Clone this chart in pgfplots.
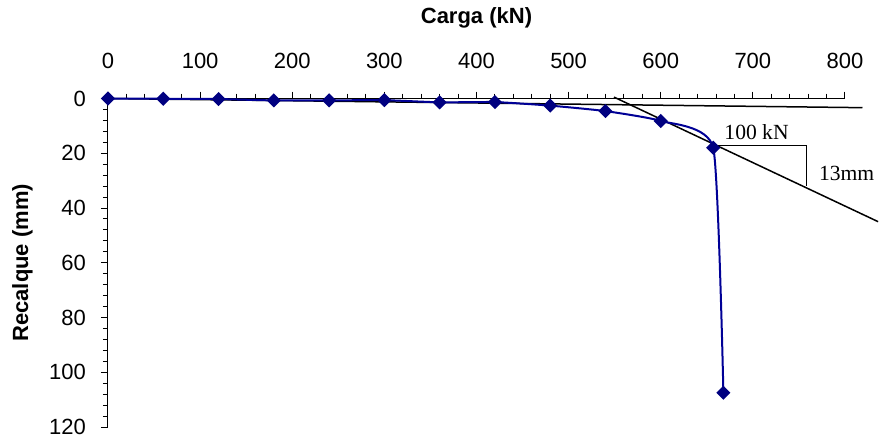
\documentclass[border=0pt]{standalone}
\usepackage{fontspec}
\setmainfont{Liberation Sans}
\newfontfamily\timesfont{Liberation Serif}
\usepackage{pgfplots}
\pgfplotsset{compat=1.18}
\definecolor{navymark}{RGB}{0,0,128}
\definecolor{curveblue}{RGB}{0,0,150}

\begin{document}
\begin{tikzpicture}
\begin{axis}[
  at={(0,0)}, anchor=south west,
  scale only axis, width=368.5pt, height=164.25pt,
  xmin=0, xmax=800, ymin=0, ymax=120,
  y dir=reverse,
  axis x line*=top, axis y line*=left,
  clip=false,
  xtick={0,100,...,800}, ytick={0,20,...,120},
  minor x tick num=4, minor y tick num=4,
  tick align=outside,
  major tick length=3.5pt, minor tick length=2.5pt,
  tick style={black, line width=0.5pt},
  axis line style={black, line width=0.5pt},
  tick label style={font=\fontsize{11}{13}\selectfont},
  xticklabel style={yshift=8pt},
  yticklabel style={xshift=-4pt},
  /pgf/number format/assume math mode=true,
  xlabel={Carga (kN)}, ylabel={Recalque (mm)},
  every axis x label/.style={at={(axis description cs:0.5,1.2287)}, anchor=base,
    font=\fontsize{11}{13}\selectfont\bfseries},
  every axis y label/.style={at={(axis description cs:-0.1085,0.5)}, rotate=90, anchor=base,
    font=\fontsize{11}{13}\selectfont\bfseries},
]
% tangent lines and the 100 kN / 13 mm triangle
\addplot[black, line width=0.75pt, mark=none] coordinates {(0,0) (819,3.35)};
\addplot[black, line width=0.75pt, mark=none] coordinates {(549.3,-0.5) (836,45)};
\addplot[black, line width=0.75pt, mark=none] coordinates {(660.7,17.1) (758.4,17.1) (758.4,32.1)};
% load test curve
\addplot[curveblue, line width=1pt, smooth, tension=0.3,
  mark=square*, mark size=2pt,
  mark options={navymark, fill=navymark, rotate=45, solid}] coordinates {
  (0,0) (60,0.1) (120,0.2) (180,0.7) (240,0.7) (300,0.6) (360,1.4)
  (420,1.3) (480,2.6) (540,4.6) (600,8.2) (657,18) (668,107.5)
};
\node[font=\timesfont\fontsize{10.8}{12}\selectfont] at (axis cs:704,12.2) {100 kN};
\node[font=\timesfont\fontsize{10.8}{12}\selectfont] at (axis cs:801.8,27.3) {13mm};
\end{axis}
\pgfresetboundingbox
\path[use as bounding box] (-54pt,-6pt) rectangle (385.5pt,213.5pt);
\end{tikzpicture}
\end{document}
